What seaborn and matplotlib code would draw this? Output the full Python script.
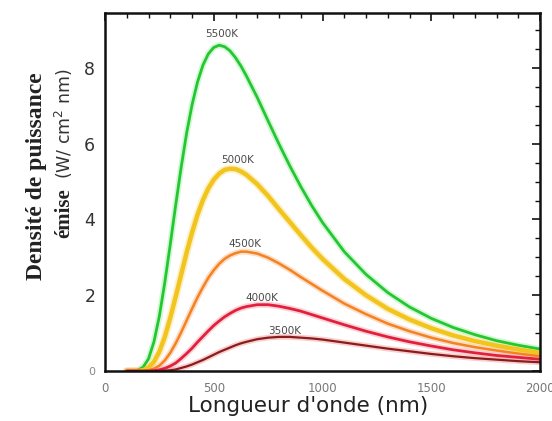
import numpy as np
import pandas as pd
import matplotlib
matplotlib.use("Agg")
import matplotlib.pyplot as plt
import seaborn as sns
from matplotlib.ticker import MultipleLocator

# Wavelength grid (nm)
wavelength = [100, 150, 175, 200, 225, 250, 275, 300, 325, 350, 375, 400, 425, 450,
              475, 500, 525, 550, 575, 600, 625, 650, 700, 750, 800, 850, 900, 950,
              1000, 1100, 1200, 1300, 1400, 1500, 1600, 1700, 1800, 1900, 2000]
# Emitted power density
t5500 = [0, 0.02, 0.10, 0.32, 0.77, 1.45, 2.34, 3.34, 4.38, 5.37,
         6.27, 7.02, 7.62, 8.07, 8.37, 8.54, 8.60, 8.56, 8.45, 8.27,
         8.05, 7.79, 7.22, 6.60, 5.99, 5.41, 4.87, 4.37, 3.92, 3.15,
         2.55, 2.07, 1.69, 1.39, 1.15, 0.96, 0.80, 0.68, 0.58]
t5000 = [0, 0.00, 0.02, 0.09, 0.24, 0.51, 0.90, 1.40, 1.96, 2.54,
         3.12, 3.65, 4.12, 4.51, 4.82, 5.05, 5.21, 5.31, 5.34, 5.33,
         5.27, 5.18, 4.93, 4.62, 4.27, 3.93, 3.59, 3.26, 2.96, 2.43,
         2.00, 1.64, 1.36, 1.13, 0.94, 0.79, 0.67, 0.57, 0.48]
t4500 = [0, 0, 0.00, 0.02, 0.06, 0.14, 0.28, 0.48, 0.73, 1.02,
         1.33, 1.64, 1.94, 2.21, 2.46, 2.66, 2.83, 2.96, 3.05, 3.11,
         3.15, 3.15, 3.10, 2.99, 2.84, 2.67, 2.48, 2.30, 2.12, 1.78,
         1.50, 1.25, 1.05, 0.88, 0.74, 0.63, 0.54, 0.46, 0.39]
t4000 = [0, 0, 0, 0.00, 0.01, 0.03, 0.07, 0.13, 0.21, 0.33,
         0.46, 0.60, 0.76, 0.91, 1.06, 1.20, 1.32, 1.43, 1.52, 1.60,
         1.66, 1.70, 1.75, 1.75, 1.71, 1.65, 1.58, 1.49, 1.40, 1.22,
         1.05, 0.90, 0.77, 0.66, 0.56, 0.48, 0.41, 0.36, 0.31]
t3500 = [0, 0, 0, 0, 0, 0.00, 0.01, 0.02, 0.04, 0.08,
         0.12, 0.17, 0.23, 0.29, 0.36, 0.43, 0.50, 0.56, 0.62, 0.68,
         0.73, 0.77, 0.84, 0.88, 0.90, 0.90, 0.88, 0.86, 0.83, 0.75,
         0.67, 0.59, 0.52, 0.45, 0.39, 0.34, 0.30, 0.26, 0.23]

temps = ["5500K", "5000K", "4500K", "4000K", "3500K"]
series = [t5500, t5000, t4500, t4000, t3500]
label_x = [538, 612, 644, 722, 828]
label_y = [8.9, 5.56, 3.36, 1.93, 1.06]
x_ticks = [0, 500, 1000, 1500, 2000]
y_ticks = [0, 2, 4, 6, 8]

colors = {"5500K": "#22c832", "5000K": "#f2c41e", "4500K": "#f5821f",
          "4000K": "#e3203c", "3500K": "#8c1c1c"}
halos = {"5500K": "#b8f0b8", "5000K": "#fbe7a0", "4500K": "#f9c8a8",
         "4000K": "#f6b8c0", "3500K": "#f4b0b0"}
widths = {"5500K": 2.0, "5000K": 3.2, "4500K": 1.8, "4000K": 2.0, "3500K": 1.6}

rows = []
for t, vals in zip(temps, series):
    for w, v in zip(wavelength, vals):
        rows.append({"wl": w, "val": v, "T": t})
df = pd.DataFrame(rows)

sns.set_theme(style="white")
plt.rcParams['font.family'] = ['DejaVu Sans']

fig = plt.figure(figsize=(5.52, 4.21), dpi=100)
ax = fig.add_axes([105 / 552, 1 - 371 / 421, 435 / 552, 358 / 421])

# soft halo under each line (as in the blurry source)
sns.lineplot(data=df, x="wl", y="val", hue="T", palette=halos, hue_order=temps,
             ax=ax, legend=False, sort=False, zorder=1, alpha=0.6)
for line, t in zip(ax.get_lines(), temps):
    line.set_linewidth(widths[t] + 2.5)
    line.set_solid_capstyle("round")

sns.lineplot(data=df, x="wl", y="val", hue="T", palette=colors, hue_order=temps,
             ax=ax, legend=False, sort=False, zorder=2)
for line, t in zip(ax.get_lines()[len(temps):], temps):
    line.set_linewidth(widths[t])

for t, lx, ly in zip(temps, label_x, label_y):
    ax.text(lx, ly, t, ha="center", va="center", fontsize=7.5, color="#4a4a4a")

ax.set_xlim(0, 2000)
ax.set_ylim(0, 9.45)
ax.set_xticks(x_ticks)
ax.set_yticks(y_ticks)
ax.xaxis.set_minor_locator(MultipleLocator(100))
ax.yaxis.set_minor_locator(MultipleLocator(0.5))
ax.tick_params(which="both", direction="in", top=True, right=True, color="#111111")
ax.tick_params(which="major", length=6, width=1.2)
ax.tick_params(which="minor", length=3.5, width=1.0)
ax.tick_params(axis="x", which="major", labelsize=8.5, labelcolor="#777777", pad=8)
ax.tick_params(axis="y", which="major", labelsize=12.5, labelcolor="#333333", pad=7)
ax.set_xticklabels([str(v) for v in x_ticks])
ax.set_yticklabels([str(v) for v in y_ticks])
ylabs = ax.get_yticklabels()
ylabs[0].set_fontsize(8)
ylabs[0].set_color("#888888")
for sp in ax.spines.values():
    sp.set_color("#111111")
    sp.set_linewidth(1.8)
    sp.set_visible(True)

ax.set_xlabel("")
ax.set_ylabel("")
fig.text(308 / 552, 1 - 406 / 421, "Longueur d'onde (nm)", ha="center", va="center",
         fontsize=15.5, color="#222222")

fig.text(37 / 552, 1 - 176 / 421, "Densité de puissance", rotation=90, ha="center",
         va="center", fontsize=17, fontweight="bold", family="Liberation Serif",
         color="#222222")
fig.text(64 / 552, 1 - 213 / 421, "émise", rotation=90, ha="center", va="center",
         fontsize=15, fontweight="bold", family="Liberation Serif", color="#222222")
fig.text(64 / 552, 1 - 124 / 421, "(W/ cm$^2$ nm)", rotation=90, ha="center",
         va="center", fontsize=12.5, color="#333333")

fig.savefig("out.png", dpi=100, facecolor="white")
